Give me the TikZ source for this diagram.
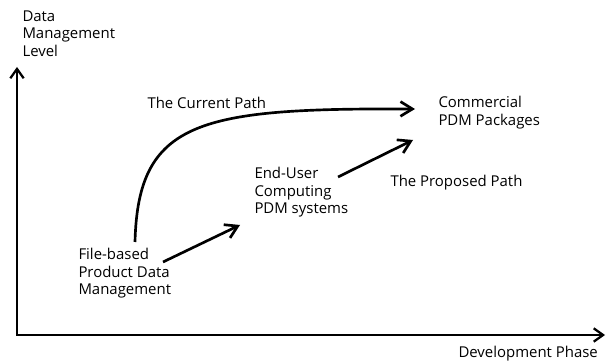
\documentclass[tikz,border=0pt]{standalone}
\usepackage{fontspec}
\setmainfont{Open Sans}
\usetikzlibrary{arrows.meta,calc}

\tikzset{every picture/.style={line width=0.75pt}}
\tikzset{
  lbl/.style={anchor=north west,inner sep=0pt,align=left,font=\fontsize{11.2}{13.1}\selectfont},
  axis/.style={line width=1.7pt,{Straight Barb[length=7pt,width=10pt]}-{Straight Barb[length=7pt,width=10pt]}},
  flow/.style={line width=2pt,-{Straight Barb[length=9pt,width=11pt]}},
}

\begin{document}
\begin{tikzpicture}[x=0.75pt,y=0.75pt,yscale=-1,xscale=1]
	\useasboundingbox (0,0) rectangle (610,363);

	%Shape: Axis 2D
	\coordinate (org) at (17,335);
	\coordinate (ytop) at (17,67);
	\coordinate (xend) at (605,335);
	\draw [axis] (ytop) -- (org) -- (xend);

	% Text Node
	\node [lbl] (ylab) at (22,10) {Data\\Management\\Level};
	% Text Node
	\node [lbl] (cur) at (147,97) {The Current Path};
	% Text Node
	\node [lbl] (cp) at (438,96) {Commercial\\PDM Packages};
	% Text Node
	\node [lbl] (eu) at (254,167) {End-User\\Computing\\PDM systems};
	% Text Node
	\node [lbl] (pp) at (390,175) {The Proposed Path};
	% Text Node
	\node [lbl] (fb) at (78,248) {File-based\\Product Data\\Management};
	% Text Node
	\node [lbl] (dp) at (458,346) {Development Phase};

	%Curve Lines
	\draw [flow] ($(fb.north west)+(57,-6)$) .. controls +(3,-122) and +(-215,-1) .. ($(cp.north west)+(-23,13)$);
	%Straight Lines
	\draw [flow] ($(fb.north west)+(85,14)$) -- ($(eu.north west)+(-14,58)$);
	%Straight Lines
	\draw [flow] ($(eu.north west)+(84,10)$) -- ($(cp.north west)+(-25,44)$);

\end{tikzpicture}
\end{document}
